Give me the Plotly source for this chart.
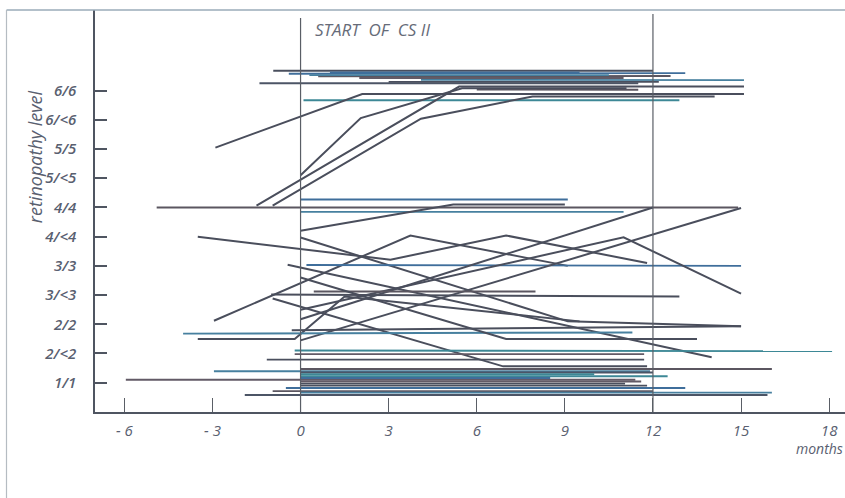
import plotly.graph_objects as go

# ---- axis labels ----
level_vals = [1, 2, 3, 4, 5, 6, 7, 8, 9, 10, 11]
level_text = ["1/1", "2/<2", "2/2", "3/<3", "3/3", "4/<4", "4/4", "5/<5", "5/5", "6/<6", "6/6"]
month_vals = [-6, -3, 0, 3, 6, 9, 12, 15, 18]
month_text = ["- 6", "- 3", "0", "3", "6", "9", "12", "15", "18"]

# ---- patient courses: months (x) and retinopathy level position (y) ----
top_months = [
    [-0.93, 12.0], [-0.4, 13.1], [0.6, 12.6], [4.1, 15.1], [-1.4, 11.5],
    [0.1, 12.9], [2.0, 11.0], [3.0, 12.2], [1.0, 9.5], [6.0, 11.5], [0.3, 10.5],
    [-2.9, 2.1, 15.1], [0.0, 2.05, 5.5, 11.1], [-1.5, 5.4, 15.1],
    [-0.95, 4.1, 7.9, 14.1],
]
top_levels = [
    [11.68, 11.68], [11.58, 11.6], [11.49, 11.5], [11.37, 11.36], [11.25, 11.25],
    [10.67, 10.67], [11.43, 11.43], [11.3, 11.3], [11.62, 11.62], [11.04, 11.03], [11.53, 11.53],
    [9.05, 10.88, 10.88], [8.1, 10.06, 11.08, 11.08], [7.06, 11.14, 11.14],
    [7.06, 10.04, 10.8, 10.8],
]

mid_months = [
    [0, 9.1], [-4.9, 14.9], [0, 11.0], [0, 5.2, 9.0],
    [-3.5, 3.06, 7.0, 11.8], [0, 9.1, 15.0], [-2.95, 3.74, 9.1], [0.2, 15.0],
    [-0.44, 14.0], [0, 12.0], [0, 15.0], [0, 11.0, 15.0],
    [-0.95, 6.9, 11.8], [-3.5, -0.2, 1.5, 9.5], [-1.0, 12.9], [0.45, 8.0],
    [-4.0, 11.3], [0, 7.0, 13.5], [-0.2, 18.1], [-0.2, 11.7], [-1.15, 11.7],
    [-0.3, 15.0],
]
mid_levels = [
    [7.27, 7.27], [7.0, 7.0], [6.85, 6.85], [6.2, 7.1, 7.1],
    [6.0, 5.21, 6.04, 5.1], [5.97, 3.1, 2.93], [3.12, 6.04, 5.0], [5.03, 5.0],
    [5.04, 1.87], [3.17, 7.0], [2.45, 6.98], [3.5, 5.98, 4.05],
    [3.88, 1.56, 1.56], [2.5, 2.5, 3.95, 3.1], [4.02, 3.95], [4.12, 4.12],
    [2.68, 2.72], [4.6, 2.5, 2.5], [2.1, 2.08], [1.98, 1.98], [1.79, 1.79],
    [2.8, 2.93],
]

bottom_months = [
    [0, 16.05], [-2.95, 11.9], [0, 12.0], [0, 12.5], [-5.95, 11.4],
    [0, 11.05], [-0.5, 13.1], [-0.95, 12.0], [0, 16.05], [-1.9, 15.9],
    [0, 10.0], [0, 11.6], [0, 11.8], [0, 8.5],
]
bottom_levels = [
    [1.47, 1.47], [1.39, 1.39], [1.35, 1.35], [1.22, 1.22], [1.1, 1.1],
    [0.97, 0.97], [0.82, 0.82], [0.71, 0.71], [0.66, 0.66], [0.58, 0.58],
    [1.29, 1.29], [1.04, 1.04], [0.9, 0.9], [1.16, 1.16],
]

palette = ["#4a4f5e", "#3f6e9b", "#5b5660", "#47809f", "#4c5566", "#3d8896", "#625a66"]

fig = go.Figure()

all_months = top_months + mid_months + bottom_months
all_levels = top_levels + mid_levels + bottom_levels
for i, (xs, ys) in enumerate(zip(all_months, all_levels)):
    diag = len(xs) > 2 or abs(ys[0] - ys[-1]) > 0.05
    color = "#4a4e5c" if diag else palette[i % len(palette)]
    fig.add_trace(go.Scatter(
        x=xs, y=ys, mode="lines",
        line=dict(color=color, width=2.0 if diag else 1.9),
        hoverinfo="skip", showlegend=False,
    ))

# vertical reference lines at month 0 and 12
for xv, ytop in [(0, 0.98), (12, 0.99)]:
    fig.add_shape(type="line", xref="x", yref="paper", x0=xv, x1=xv, y0=0, y1=ytop,
                  line=dict(color="#5a5e66", width=1.2))

# outer frame (top and left), light grey
fig.add_shape(type="line", xref="paper", yref="paper", x0=-0.118, x1=1, y0=1, y1=1,
              line=dict(color="#9aabb8", width=1.5))
fig.add_shape(type="line", xref="paper", yref="paper", x0=-0.118, x1=-0.118, y0=1, y1=-0.22,
              line=dict(color="#b5bcc2", width=1.2))

fig.add_annotation(x=0, y=0.952, xref="x", yref="paper", xanchor="left", yanchor="middle",
                   xshift=12, text="START  OF  CS II", showarrow=False,
                   font=dict(family="Open Sans", size=17, color="#666b78", style="italic"))
fig.add_annotation(x=-0.08, y=0.634, xref="paper", yref="paper", textangle=-90,
                   xanchor="center", yanchor="middle",
                   text="retinopathy level", showarrow=False,
                   font=dict(family="Open Sans", size=18, color="#596070", style="italic"))
fig.add_annotation(x=1.0, y=-0.09, xref="paper", yref="paper", xanchor="right", yanchor="middle",
                   text="months", showarrow=False,
                   font=dict(family="Open Sans", size=14, color="#596070", style="italic"))

fig.update_layout(
    width=845, height=498,
    margin=dict(l=95, r=0, t=10, b=86),
    paper_bgcolor="white", plot_bgcolor="white",
    showlegend=False,
    xaxis=dict(range=[-7.0, 18.54], showgrid=False, zeroline=False,
               showline=True, linecolor="#4f5561", linewidth=2,
               ticks="inside", ticklen=14, tickwidth=1.3, tickcolor="#5a5e66",
               tickvals=month_vals, ticktext=month_text,
               tickfont=dict(family="Open Sans", size=15, color="#596070", style="italic"),
               ticklabelstandoff=4),
    yaxis=dict(range=[-0.003, 13.76], showgrid=False, zeroline=False,
               showline=True, linecolor="#4f5561", linewidth=1.5,
               ticks="inside", ticklen=12, tickwidth=2, tickcolor="#4f5561",
               tickvals=level_vals, ticktext=level_text,
               tickfont=dict(family="Open Sans", size=15, color="#596070",
                             style="italic", weight=600),
               ticklabelstandoff=14),
)

fig.write_html("out.html", config={"displayModeBar": False},
               post_script="document.body.style.margin='0px';")
